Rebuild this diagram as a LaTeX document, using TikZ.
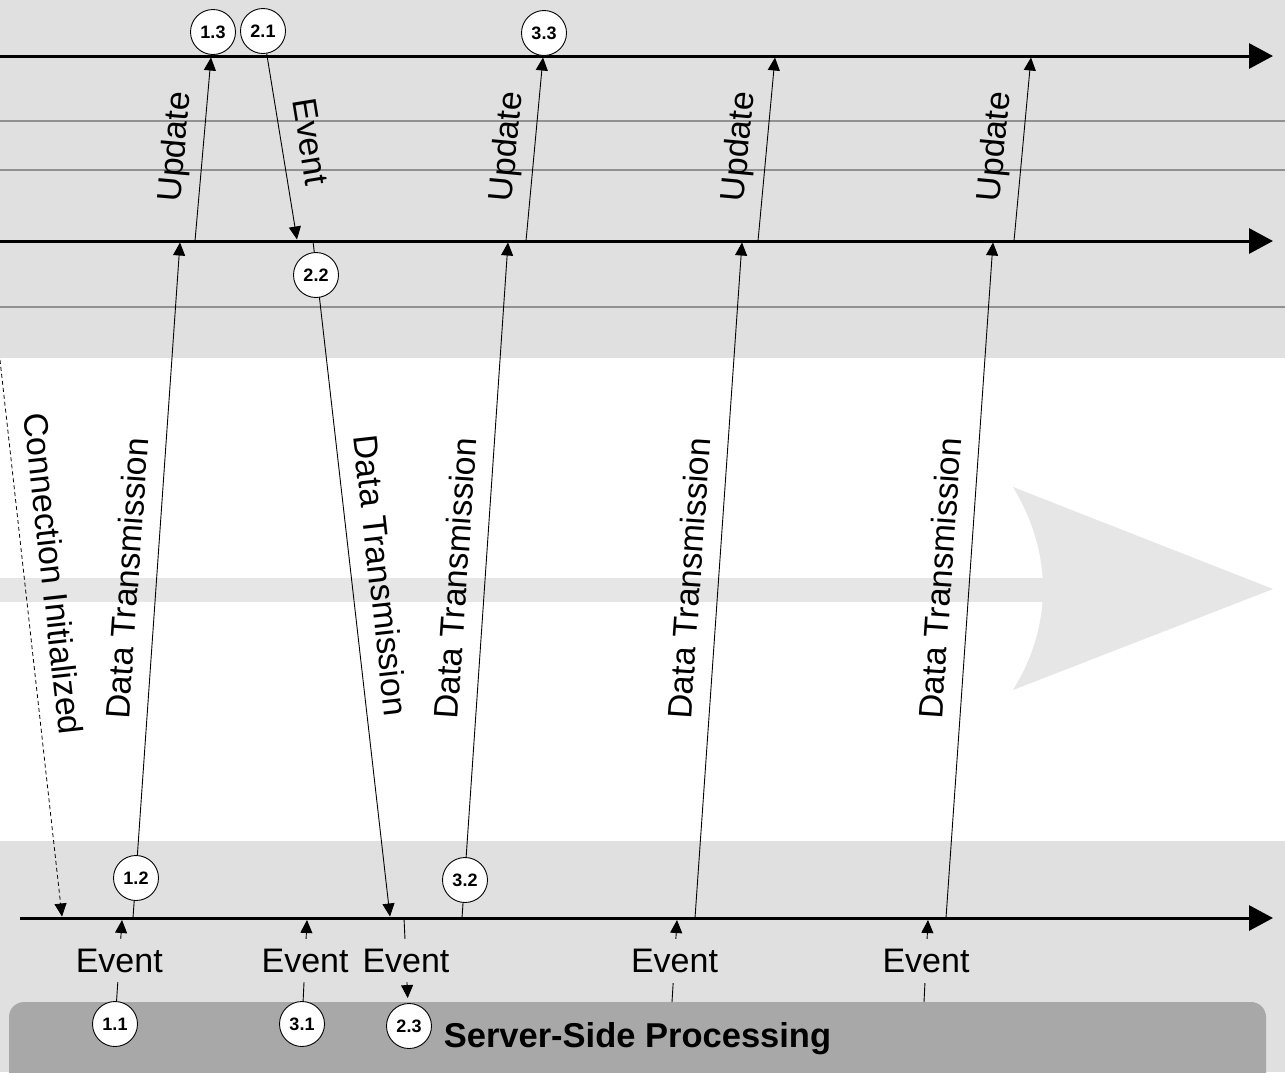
\documentclass[tikz,border=0pt]{standalone}
\usepackage{fontspec}
\setmainfont{Liberation Sans}
\usetikzlibrary{arrows.meta}
\definecolor{bandgray}{RGB}{224,224,224}
\definecolor{arrowgray}{RGB}{230,230,230}
\definecolor{rulegray}{RGB}{145,145,145}
\definecolor{boxgray}{RGB}{168,168,168}

\begin{document}
\begin{tikzpicture}[x=1pt,y=-1pt,
  timeline/.style={line width=3pt, -{Triangle[length=24pt,width=25pt]}},
  msg/.style={line width=0.9pt, -{Triangle[length=13pt,width=12pt]}},
  initmsg/.style={line width=0.8pt, dash pattern=on 4pt off 3pt, -{Triangle[length=13pt,width=12pt]}},
  lbl/.style={font=\fontsize{34}{40}\selectfont, inner sep=2pt},
  sidelbl/.style={lbl, sloped, above=8pt, text depth=7.3pt},
  eventlbl/.style={lbl, fill=bandgray, inner xsep=2pt, inner ysep=10pt},
  stage/.style={circle, draw, line width=0.9pt, fill=white, minimum size=45pt,
    inner sep=0pt, font=\fontsize{18}{20}\selectfont\bfseries},
]
\clip (0,0) rectangle (1285,1072);

% background bands
\fill[white] (0,0) rectangle (1285,1072);
\fill[bandgray] (0,0) rectangle (1285,358);
\fill[bandgray] (0,841) rectangle (1285,1072);

% large direction arrow in the transport zone
\fill[arrowgray] (0,578) rectangle (1043,602);
\fill[arrowgray] (1013,487) .. controls (1033,520) and (1043,555) .. (1043,589)
  .. controls (1043,623) and (1033,658) .. (1013,690) -- (1273,589) -- cycle;

% thin rules of the client zone
\foreach \yy in {121,170,307}
  \draw[rulegray, line width=1.4pt] (0,\yy) -- (1285,\yy);

% server box
\node[fill=boxgray, rounded corners=15pt, minimum width=1257pt, minimum height=90pt,
  inner sep=0pt] (server) at (637.5,1047) {};
\node[font=\fontsize{34.5}{40}\selectfont\bfseries, anchor=base, inner sep=0pt]
  (serverlabel) at (637.5,1047) {Server-Side Processing};

% timelines
\coordinate (tl0) at (0,56);    \coordinate (tl1) at (1273,56);
\coordinate (ml0) at (0,241);   \coordinate (ml1) at (1273,241);
\coordinate (bl0) at (20,918);  \coordinate (bl1) at (1273,918);
\draw[timeline] (tl0) -- (tl1);
\draw[timeline] (ml0) -- (ml1);
\draw[timeline] (bl0) -- (bl1);

% stage markers at the server and the event sources
\node[stage] (c11) at (115,1024) {1.1};
\node[stage] (c31) at (302,1024) {3.1};
\node[stage] (c23) at (409,1026) {2.3};
\node[stage] (c21) at (263,31) {2.1};

% message end points on the timelines
\coordinate (ci0) at (0,360);   \coordinate (ci1) at (62,916.5);
\coordinate (e1) at (122,920);
\coordinate (d1a) at (133,918);  \coordinate (d1b) at (180,242.5);
\coordinate (u1a) at (195,241);  \coordinate (u1b) at (211,57.5);
\coordinate (e2) at (297,239.5);
\coordinate (d2a) at (313,241);  \coordinate (d2b) at (390,916.5);
\coordinate (e23) at (404,918);
\coordinate (e3) at (307,920);
\coordinate (d3a) at (462,918);  \coordinate (d3b) at (508,242.5);
\coordinate (u3a) at (526,241);  \coordinate (u3b) at (543,57.5);
\coordinate (s4) at (672,1002);  \coordinate (e4) at (677,920);
\coordinate (d4a) at (695,918);  \coordinate (d4b) at (742,242.5);
\coordinate (u4a) at (758,241);  \coordinate (u4b) at (775,57.5);
\coordinate (s5) at (924,1002);  \coordinate (e5) at (928,920);
\coordinate (d5a) at (946,918);  \coordinate (d5b) at (993,242.5);
\coordinate (u5a) at (1014,241); \coordinate (u5b) at (1031,57.5);

% connection set-up
\draw[initmsg] (ci0) -- node[pos=0.39, sidelbl] (lci) {Connection Initialized} (ci1);

% cycle 1
\draw[msg] (c11) -- node[eventlbl] (le1) {Event} (e1);
\draw[msg] (d1a) -- node[sidelbl] (ld1) {Data Transmission} (d1b);
\draw[msg] (u1a) -- node[sidelbl] (lu1) {Update} (u1b);

% cycle 2
\draw[msg] (c21) -- node[sidelbl] (le2) {Event} (e2);
\draw[msg] (d2a) -- node[sidelbl] (ld2) {Data Transmission} (d2b);
\draw[msg, shorten >=5pt] (e23) -- node[eventlbl] (le23) {Event} (c23);

% cycle 3
\draw[msg] (c31) -- node[eventlbl] (le3) {Event} (e3);
\draw[msg] (d3a) -- node[sidelbl] (ld3) {Data Transmission} (d3b);
\draw[msg] (u3a) -- node[sidelbl] (lu3) {Update} (u3b);

% further cycles
\draw[msg] (s4) -- node[eventlbl] (le4) {Event} (e4);
\draw[msg] (d4a) -- node[sidelbl] (ld4) {Data Transmission} (d4b);
\draw[msg] (u4a) -- node[sidelbl] (lu4) {Update} (u4b);
\draw[msg] (s5) -- node[eventlbl] (le5) {Event} (e5);
\draw[msg] (d5a) -- node[sidelbl] (ld5) {Data Transmission} (d5b);
\draw[msg] (u5a) -- node[sidelbl] (lu5) {Update} (u5b);

% stage markers sitting on the message lines
\node[stage] (c12) at (136,878) {1.2};
\node[stage] (c13) at (213,32) {1.3};
\node[stage] (c22) at (316,275) {2.2};
\node[stage] (c32) at (465,880) {3.2};
\node[stage] (c33) at (544,33) {3.3};
\end{tikzpicture}
\end{document}
